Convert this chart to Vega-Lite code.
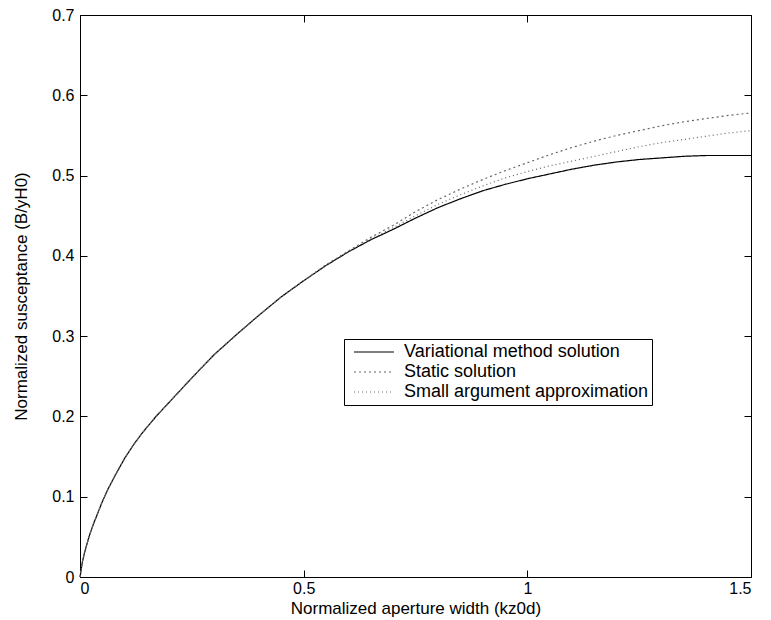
{
  "$schema": "https://vega.github.io/schema/vega-lite/v6.json",
  "width": 671,
  "height": 562,
  "autosize": {"type": "none"},
  "padding": {"left": 80, "top": 15, "right": 20, "bottom": 43},
  "background": "white",
  "config": {
    "view": {"stroke": "black", "strokeWidth": 1},
    "font": "Liberation Sans",
    "axis": {
      "grid": false,
      "domain": false,
      "tickColor": "black",
      "tickWidth": 1,
      "tickSize": 7,
      "offset": -7,
      "labelFontSize": 16,
      "labelColor": "black",
      "titleFontSize": 17,
      "titleFontWeight": "normal",
      "titleColor": "black"
    }
  },
  "data": {
    "values": [
      {"x": 0, "Variational method solution": 0, "Static solution": 0, "Small argument approximation": 0},
      {"x": 0.005, "Variational method solution": 0.018, "Static solution": 0.018, "Small argument approximation": 0.018},
      {"x": 0.01, "Variational method solution": 0.03, "Static solution": 0.03, "Small argument approximation": 0.03},
      {"x": 0.02, "Variational method solution": 0.05, "Static solution": 0.05, "Small argument approximation": 0.05},
      {"x": 0.03, "Variational method solution": 0.066, "Static solution": 0.066, "Small argument approximation": 0.066},
      {"x": 0.04, "Variational method solution": 0.08, "Static solution": 0.08, "Small argument approximation": 0.08},
      {"x": 0.05, "Variational method solution": 0.094, "Static solution": 0.094, "Small argument approximation": 0.094},
      {"x": 0.063, "Variational method solution": 0.11, "Static solution": 0.11, "Small argument approximation": 0.11},
      {"x": 0.08, "Variational method solution": 0.128, "Static solution": 0.128, "Small argument approximation": 0.128},
      {"x": 0.1, "Variational method solution": 0.148, "Static solution": 0.148, "Small argument approximation": 0.148},
      {"x": 0.12, "Variational method solution": 0.165, "Static solution": 0.165, "Small argument approximation": 0.165},
      {"x": 0.14, "Variational method solution": 0.18, "Static solution": 0.18, "Small argument approximation": 0.18},
      {"x": 0.17, "Variational method solution": 0.2, "Static solution": 0.2, "Small argument approximation": 0.2},
      {"x": 0.2, "Variational method solution": 0.218, "Static solution": 0.218, "Small argument approximation": 0.218},
      {"x": 0.25, "Variational method solution": 0.248, "Static solution": 0.248, "Small argument approximation": 0.248},
      {"x": 0.3, "Variational method solution": 0.277, "Static solution": 0.277, "Small argument approximation": 0.277},
      {"x": 0.35, "Variational method solution": 0.302, "Static solution": 0.302, "Small argument approximation": 0.302},
      {"x": 0.4, "Variational method solution": 0.326, "Static solution": 0.326, "Small argument approximation": 0.326},
      {"x": 0.45, "Variational method solution": 0.349, "Static solution": 0.349, "Small argument approximation": 0.349},
      {"x": 0.5, "Variational method solution": 0.369, "Static solution": 0.369, "Small argument approximation": 0.369},
      {"x": 0.55, "Variational method solution": 0.388, "Static solution": 0.389, "Small argument approximation": 0.388},
      {"x": 0.6, "Variational method solution": 0.405, "Static solution": 0.406, "Small argument approximation": 0.405},
      {"x": 0.65, "Variational method solution": 0.42, "Static solution": 0.423, "Small argument approximation": 0.421},
      {"x": 0.7, "Variational method solution": 0.433, "Static solution": 0.438, "Small argument approximation": 0.435},
      {"x": 0.75, "Variational method solution": 0.447, "Static solution": 0.455, "Small argument approximation": 0.45},
      {"x": 0.8, "Variational method solution": 0.46, "Static solution": 0.47, "Small argument approximation": 0.464},
      {"x": 0.85, "Variational method solution": 0.471, "Static solution": 0.483, "Small argument approximation": 0.476},
      {"x": 0.9, "Variational method solution": 0.481, "Static solution": 0.495, "Small argument approximation": 0.487},
      {"x": 0.95, "Variational method solution": 0.489, "Static solution": 0.506, "Small argument approximation": 0.497},
      {"x": 1.0, "Variational method solution": 0.496, "Static solution": 0.516, "Small argument approximation": 0.505},
      {"x": 1.05, "Variational method solution": 0.502, "Static solution": 0.526, "Small argument approximation": 0.512},
      {"x": 1.1, "Variational method solution": 0.508, "Static solution": 0.535, "Small argument approximation": 0.518},
      {"x": 1.15, "Variational method solution": 0.513, "Static solution": 0.543, "Small argument approximation": 0.524},
      {"x": 1.2, "Variational method solution": 0.517, "Static solution": 0.55, "Small argument approximation": 0.53},
      {"x": 1.25, "Variational method solution": 0.52, "Static solution": 0.556, "Small argument approximation": 0.536},
      {"x": 1.3, "Variational method solution": 0.522, "Static solution": 0.562, "Small argument approximation": 0.541},
      {"x": 1.35, "Variational method solution": 0.524, "Static solution": 0.567, "Small argument approximation": 0.545},
      {"x": 1.4, "Variational method solution": 0.525, "Static solution": 0.571, "Small argument approximation": 0.549},
      {"x": 1.45, "Variational method solution": 0.525, "Static solution": 0.575, "Small argument approximation": 0.553},
      {"x": 1.5, "Variational method solution": 0.525, "Static solution": 0.578, "Small argument approximation": 0.556}
    ]
  },
  "transform": [
    {"fold": ["Variational method solution", "Static solution", "Small argument approximation"], "as": ["series", "y"]}
  ],
  "resolve": {"axis": {"x": "independent", "y": "independent"}},
  "layer": [
    {
      "mark": {"type": "line", "strokeWidth": 1.2},
      "encoding": {
        "x": {
          "field": "x",
          "type": "quantitative",
          "scale": {"domain": [0, 1.5], "nice": false},
          "axis": {"values": [0, 0.5, 1, 1.5], "format": "~g", "labelPadding": 3, "title": "Normalized aperture width (kz0d)", "titlePadding": 4}
        },
        "y": {
          "field": "y",
          "type": "quantitative",
          "scale": {"domain": [0, 0.7], "nice": false},
          "axis": {"values": [0, 0.1, 0.2, 0.3, 0.4, 0.5, 0.6, 0.7], "format": "~g", "labelPadding": 6, "title": "Normalized susceptance (B/yH0)", "titlePadding": 21}
        },
        "order": {"field": "x", "type": "quantitative"},
        "color": {
          "field": "series",
          "type": "nominal",
          "scale": {
            "domain": ["Variational method solution", "Static solution", "Small argument approximation"],
            "range": ["#000000", "#666666", "#666666"]
          },
          "legend": {
            "title": null,
            "orient": "none",
            "legendX": 264,
            "legendY": 324,
            "strokeColor": "black",
            "fillColor": "white",
            "padding": 3,
            "symbolType": "stroke",
            "symbolSize": 1600,
            "symbolOffset": 6,
            "symbolStrokeWidth": 1.2,
            "clipHeight": 20,
            "labelFontSize": 18,
            "labelColor": "black",
            "labelOffset": 9,
            "rowPadding": 0,
            "labelLimit": 400
          }
        },
        "strokeDash": {
          "field": "series",
          "type": "nominal",
          "scale": {
            "domain": ["Variational method solution", "Static solution", "Small argument approximation"],
            "range": [[1, 0], [2, 3], [1, 3]]
          },
          "legend": {
            "title": null,
            "orient": "none",
            "legendX": 264,
            "legendY": 324,
            "strokeColor": "black",
            "fillColor": "white",
            "padding": 3,
            "symbolType": "stroke",
            "symbolSize": 1600,
            "symbolOffset": 6,
            "symbolStrokeWidth": 1.2,
            "clipHeight": 20,
            "labelFontSize": 18,
            "labelColor": "black",
            "labelOffset": 9,
            "rowPadding": 0,
            "labelLimit": 400
          }
        }
      }
    },
    {
      "mark": {"type": "line", "strokeOpacity": 0},
      "encoding": {
        "x": {
          "field": "x",
          "type": "quantitative",
          "scale": {"domain": [0, 1.5], "nice": false},
          "axis": {"orient": "top", "values": [0, 0.5, 1, 1.5], "labels": false, "title": null}
        },
        "y": {
          "field": "y",
          "type": "quantitative",
          "scale": {"domain": [0, 0.7], "nice": false},
          "axis": {"orient": "right", "values": [0, 0.1, 0.2, 0.3, 0.4, 0.5, 0.6, 0.7], "labels": false, "title": null}
        },
        "detail": {"field": "series"}
      }
    }
  ]
}
